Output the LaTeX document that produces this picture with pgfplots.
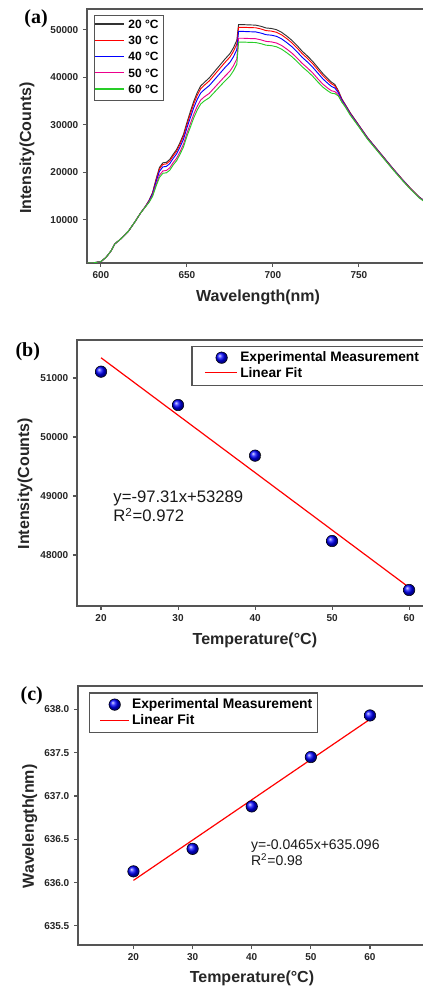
\documentclass[border=0pt]{standalone}
\usepackage{fontspec}
\setmainfont{Liberation Sans}
\newfontfamily\serifbf{Liberation Serif}
\usepackage{pgfplots}
\usepackage{pgfplotstable}
\pgfplotsset{compat=1.18}

\definecolor{cgreen}{RGB}{40,205,40}
\definecolor{boxgray}{RGB}{85,85,85}

% emission spectra, 20-60 C
\pgfplotstableread{
x    t20   t30   t40   t50   t60
592  900   900   900   900   900
596  950   950   950   950   950
600  1200  1200  1200  1200  1200
603  2100  2100  2100  2100  2100
606  3500  3500  3500  3500  3500
608  4900  4900  4900  4900  4900
611  5800  5800  5800  5800  5800
613  6500  6500  6500  6500  6500
616  7600  7600  7600  7600  7600
620  9700  9700  9700  9700  9700
623  11400 11400 11400 11400 11400
626  12900 12880 12850 12799 12771
628  14100 14035 13935 13770 13677
630  15700 15580 15394 15088 14915
632  18500 18274 17923 17346 17020
634  21000 20679 20181 19362 18900
636  22000 21663 21142 20284 19800
638  22100 21762 21238 20376 19890
640  22700 22353 21815 20929 20430
642  23800 23454 22918 22036 21539
644  24800 24440 23881 22962 22444
646  26300 25918 25325 24351 23801
648  28000 27593 26963 25925 25340
650  30500 30057 29370 28240 27602
652  32800 32298 31521 30242 29520
654  35000 34464 33635 32270 31500
656  36800 36237 35365 33930 33120
658  38200 37616 36710 35220 34380
660  38900 38305 37383 35866 35010
663  39900 39259 38266 36632 35710
666  41200 40538 39513 37826 36874
669  42500 41817 40759 39019 38037
672  43800 43096 42006 40213 39201
675  45000 44277 43157 41314 40275
677  46200 45458 44308 42416 41349
679  47800 47032 45843 43885 42781
680  51100 50537 49665 48230 47421
683  51100 50537 49665 48230 47421
686  51050 50488 49617 48183 47374
690  51000 50438 49568 48136 47328
693  50750 50191 49325 47900 47096
696  50400 49845 48985 47570 46771
699  50300 49746 48888 47475 46678
702  50050 49499 48645 47239 46446
705  49500 48955 48110 46720 45936
708  48700 48164 47333 45965 45194
711  47800 47273 46458 45116 44358
714  46700 46186 45389 44077 43338
717  45500 44999 44222 42945 42224
720  44500 44010 43250 42001 41296
723  43400 42922 42181 40963 40275
726  42100 41636 40918 39736 39069
729  40800 40363 39686 38572 37944
732  39700 39305 38694 37687 37120
734  39000 38642 38087 37175 36660
736  38500 38205 37749 36999 36575
738  37200 37029 36765 36330 36084
740  35500 35391 35223 34946 34790
742  34300 34221 34099 33899 33786
745  32500 32425 32310 32120 32013
750  29900 29845 29760 29620 29541
755  27300 27250 27172 27044 26972
760  25100 25054 24983 24865 24799
765  22900 22858 22793 22686 22625
770  20700 20662 20603 20506 20452
775  18600 18566 18513 18426 18377
780  16600 16569 16522 16445 16401
785  14800 14773 14731 14661 14622
788  14000 13975 13934 13868 13832
}\spectra

\pgfplotsset{
  panel/.style={
    scale only axis,
    axis line style={boxgray, line width=1pt},
    tick style={boxgray, line width=0.8pt},
    tick align=outside, major tick length=3pt,
    xtick pos=bottom, ytick pos=left,
    ticklabel style={font=\fontsize{7.5}{8}\selectfont\bfseries, text=black!85},
    label style={font=\fontsize{12}{14}\selectfont\bfseries, text=black!85},
    /pgf/number format/assume math mode=true,
    /pgf/number format/1000 sep={},
    scaled ticks=false,
    legend cell align=left,
  },
  % empty legend slots; line samples are set as coloured rules in the entries
  legslota/.style={legend image code/.code={%
    \pgfpathrectanglecorners{\pgfpoint{0pt}{-1pt}}{\pgfpoint{22pt}{1pt}}\pgfusepath{use as bounding box}}},
  legslotb/.style={legend image code/.code={%
    \pgfpathrectanglecorners{\pgfpoint{0pt}{-1pt}}{\pgfpoint{32pt}{1pt}}\pgfusepath{use as bounding box}}},
  legballb/.style={legend image code/.code={%
    \pgfpathrectanglecorners{\pgfpoint{0pt}{-1pt}}{\pgfpoint{32pt}{1pt}}\pgfusepath{use as bounding box}%
    \draw[only marks, mark=ball, mark size=4.3pt, ball color=blue] plot coordinates {(20pt,0pt)};}},
  legballc/.style={legend image code/.code={%
    \pgfpathrectanglecorners{\pgfpoint{0pt}{-1pt}}{\pgfpoint{28pt}{1pt}}\pgfusepath{use as bounding box}%
    \draw[only marks, mark=ball, mark size=4.3pt, ball color=blue] plot coordinates {(17pt,0pt)};}},
  legfitc/.style={legend image code/.code={%
    \pgfpathrectanglecorners{\pgfpoint{0pt}{-1pt}}{\pgfpoint{28pt}{1pt}}\pgfusepath{use as bounding box}%
    \draw[draw=red, line width=0.9pt] (6pt,0pt) -- (28pt,0pt);}},
}
\newcommand{\legrule}[2]{\llap{\textcolor{#1}{\rule[2.9pt]{22pt}{0.8pt}}\hspace{3pt}}#2}

\begin{document}
\begin{tikzpicture}
\useasboundingbox (0,0) rectangle (317.25pt,740.25pt);

% (a)
\begin{axis}[panel,
  at={(65.25pt,543pt)}, anchor=south west,
  width=253.125pt, height=190.5pt,
  xmin=591.9, xmax=788.1, ymin=900, ymax=54400,
  xtick={600,650,700,750}, ytick={10000,20000,30000,40000,50000},
  xlabel={Wavelength(nm)}, ylabel={Intensity(Counts)},
  xlabel style={at={(axis description cs:0.507,-0.134)}, anchor=center},
  ylabel style={at={(axis description cs:-0.178,0.453)}, anchor=center},
  legslota,
  legend style={name=lega, at={(axis description cs:0.021,0.976)}, anchor=north west,
    draw=none, font=\fontsize{9}{10}\selectfont\bfseries,
    row sep=0.4pt, inner sep=1.5pt},
]
\addplot[black!80, line width=0.7pt] table[x=x, y=t20] {\spectra};
\addplot[red, line width=0.7pt] table[x=x, y=t30] {\spectra};
\addplot[blue, line width=0.7pt] table[x=x, y=t40] {\spectra};
\addplot[magenta, line width=0.7pt] table[x=x, y=t50] {\spectra};
\addplot[cgreen, line width=0.7pt] table[x=x, y=t60] {\spectra};
\legend{\legrule{black!80}{20 °C}, \legrule{red}{30 °C}, \legrule{blue}{40 °C},
  \legrule{magenta}{50 °C}, \legrule{cgreen}{60 °C}}
\end{axis}
\draw[boxgray, line width=0.8pt] (lega.south west) rectangle (lega.north east);

% (b)
\begin{axis}[panel,
  at={(57.75pt,285.75pt)}, anchor=south west,
  width=260.625pt, height=199.5pt,
  xmin=16.88, xmax=62.0, ymin=47136, ymax=51644,
  xtick={20,30,40,50,60}, ytick={48000,49000,50000,51000},
  xlabel={Temperature(°C)}, ylabel={Intensity(Counts)},
  xlabel style={at={(axis description cs:0.512,-0.128)}, anchor=center},
  ylabel style={at={(axis description cs:-0.150,0.46)}, anchor=center},
  legend style={name=legb, at={(axis description cs:0.331,0.977)}, anchor=north west,
    draw=none, font=\fontsize{10.3}{11}\selectfont\bfseries,
    row sep=-1pt, inner sep=2pt},
]
\addplot[only marks, mark=ball, mark size=4.3pt, ball color=blue, legballb]
  coordinates {(20,51107) (30,50542) (40,49684) (50,48237) (60,47407)};
\addplot[red, line width=0.9pt, legslotb]
  coordinates {(20,51342.8) (60,47450.4)};
\legend{Experimental Measurement,
  \llap{\textcolor{red}{\rule[3.2pt]{24pt}{0.9pt}}\hspace{2.5pt}}Linear Fit}
\node[anchor=west, align=left, font=\fontsize{12.5}{14.5}\selectfont, text=black!90]
  at (axis cs:21.0,48822) {y=-97.31x+53289\\R\textsuperscript{2}=0.972};
\end{axis}
\draw[boxgray, line width=0.8pt] (legb.south west) rectangle ([xshift=6pt]legb.north east);

% (c)
\begin{axis}[panel,
  at={(58.5pt,31.5pt)}, anchor=south west,
  width=259.875pt, height=194.25pt,
  xmin=10.62, xmax=69.22, ymin=635.28, ymax=638.27,
  xtick={20,30,40,50,60}, ytick={635.5,636.0,636.5,637.0,637.5,638.0},
  yticklabel style={/pgf/number format/.cd, fixed, fixed zerofill, precision=1},
  xlabel={Temperature(°C)}, ylabel={Wavelength(nm)},
  xlabel style={at={(axis description cs:0.502,-0.127)}, anchor=center},
  ylabel style={at={(axis description cs:-0.139,0.458)}, anchor=center},
  legend style={name=legc, at={(axis description cs:0.032,0.973)}, anchor=north west,
    draw=none, font=\fontsize{10.4}{11}\selectfont\bfseries,
    row sep=-1pt, inner sep=2pt},
]
\addplot[only marks, mark=ball, mark size=4.3pt, ball color=blue, legballc]
  coordinates {(20,636.13) (30,636.39) (40,636.88) (50,637.45) (60,637.93)};
\addplot[red, line width=0.9pt, legfitc]
  coordinates {(20,636.026) (60,637.886)};
\legend{Experimental Measurement, Linear Fit}
\node[anchor=west, align=left, font=\fontsize{10.5}{12}\selectfont, text=black!90]
  at (axis cs:39.1,636.34) {y=-0.0465x+635.096\\R\textsuperscript{2}=0.98};
\end{axis}
\draw[boxgray, line width=0.8pt] (legc.south west) rectangle (legc.north east);

\node[font=\fontsize{15}{16}\selectfont\serifbf\bfseries] at (27pt,726pt) {(a)};
\node[font=\fontsize{15}{16}\selectfont\serifbf\bfseries] at (20.8pt,476.5pt) {(b)};
\node[font=\fontsize{15}{16}\selectfont\serifbf\bfseries] at (23.8pt,218.4pt) {(c)};
\end{tikzpicture}
\end{document}
